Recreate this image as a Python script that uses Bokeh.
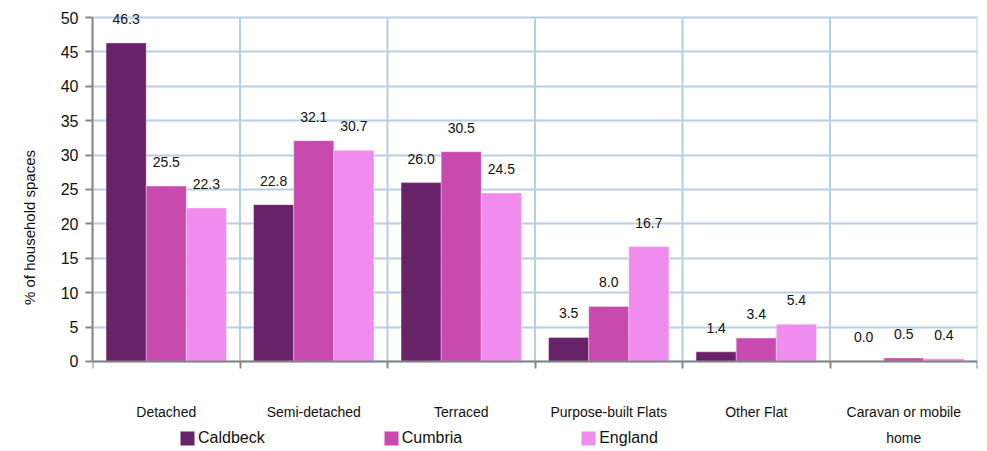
from bokeh.plotting import figure
from bokeh.models import ColumnDataSource, FixedTicker, Legend, LegendItem, Range1d
from bokeh.core.properties import value
from bokeh.embed import file_html
from bokeh.resources import INLINE

categories = ["Detached", "Semi-detached", "Terraced", "Purpose-built Flats",
              "Other Flat", "Caravan or mobile\nhome"]
series = ["Caldbeck", "Cumbria", "England"]
caldbeck = [46.3, 22.8, 26.0, 3.5, 1.4, 0.0]
cumbria = [25.5, 32.1, 30.5, 8.0, 3.4, 0.5]
england = [22.3, 30.7, 24.5, 16.7, 5.4, 0.4]
colors = ["#68226a", "#c94aaf", "#f08cee"]
y_ticks = list(range(0, 55, 5))

FONT = "Liberation Sans"
BAR_W = 0.272
Y_MAX = y_ticks[-1]
Y_TOP = 51.75   # headroom above the top gridline for value labels
Y_LOW = -12.8   # room below zero for category labels and legend
N = len(categories)

p = figure(width=979, height=451, output_backend="svg", toolbar_location=None,
           x_range=Range1d(0, N), y_range=Range1d(Y_LOW, Y_TOP),
           min_border_left=92, min_border_right=2, min_border_top=5,
           min_border_bottom=2)
p.outline_line_color = None
p.background_fill_color = "white"

GRID_COLOR = "#b9cde5"
# horizontal grid
p.ygrid.ticker = FixedTicker(ticks=y_ticks)
p.ygrid.grid_line_color = GRID_COLOR
p.ygrid.grid_line_width = 2
# vertical grid at category boundaries, limited to the value range
p.xgrid.visible = False
bounds = list(range(0, N + 1))
p.segment(x0=bounds, x1=bounds, y0=[0] * len(bounds), y1=[Y_MAX] * len(bounds),
          line_color=GRID_COLOR, line_width=2)

# bars
data_sets = [caldbeck, cumbria, england]
legend_items = []
for k, (name, vals, col) in enumerate(zip(series, data_sets, colors)):
    xs = [i + 0.5 + (k - 1) * BAR_W for i in range(N)]
    src = ColumnDataSource(dict(x=xs, top=vals,
                                lab=[f"{v:.1f}" for v in vals]))
    r = p.vbar(x="x", top="top", bottom=0, width=BAR_W, source=src,
               fill_color=col, line_color="white", line_alpha=0.35, line_width=1)
    p.text(x="x", y="top", text="lab", source=src, y_offset=-24,
           text_align="center", text_baseline="middle",
           text_font=value(FONT), text_font_size="14px", text_color="#111111")
    legend_items.append(LegendItem(label=name, renderers=[r]))

# x axis (fixed at zero)
xa = p.xaxis[0]
xa.fixed_location = 0
xa.ticker = FixedTicker(ticks=[i + 0.5 for i in range(N)],
                        minor_ticks=bounds)
xa.major_label_overrides = {i + 0.5: c for i, c in enumerate(categories)}
xa.major_tick_line_color = None
xa.major_tick_out = 0
xa.major_tick_in = 0
xa.minor_tick_line_color = "#868686"
xa.minor_tick_line_width = 2
xa.minor_tick_out = 7
xa.minor_tick_in = 0
xa.axis_line_color = "#868686"
xa.axis_line_width = 2
xa.major_label_standoff = 36
xa.major_label_text_font = FONT
xa.major_label_text_font_size = "14px"
xa.major_label_text_color = "#111111"
xa.major_label_text_line_height = 1.6

# y axis
ya = p.yaxis[0]
ya.bounds = (0, Y_MAX)
ya.ticker = FixedTicker(ticks=y_ticks)
ya.minor_tick_line_color = None
ya.major_tick_line_color = "#868686"
ya.major_tick_line_width = 2
ya.major_tick_out = 7
ya.major_tick_in = 0
ya.axis_line_color = "#868686"
ya.axis_line_width = 2
ya.major_label_standoff = 7
ya.major_label_text_font = FONT
ya.major_label_text_font_size = "16px"
ya.major_label_text_color = "#111111"
ya.axis_label = "% of household spaces"
ya.axis_label_text_font = FONT
ya.axis_label_text_font_size = "15px"
ya.axis_label_text_font_style = "normal"
ya.axis_label_text_color = "#111111"
ya.axis_label_standoff = 20

legend = Legend(items=legend_items, orientation="horizontal", location=(86, 2),
                spacing=117, padding=0, margin=0, glyph_width=18, glyph_height=18,
                label_height=18, label_standoff=2, border_line_color=None,
                background_fill_alpha=0, label_text_font=FONT,
                label_text_font_size="16px", label_text_color="#111111",
                label_text_baseline="middle")
p.add_layout(legend, "center")

open("out.html", "w").write(file_html(p, INLINE))
